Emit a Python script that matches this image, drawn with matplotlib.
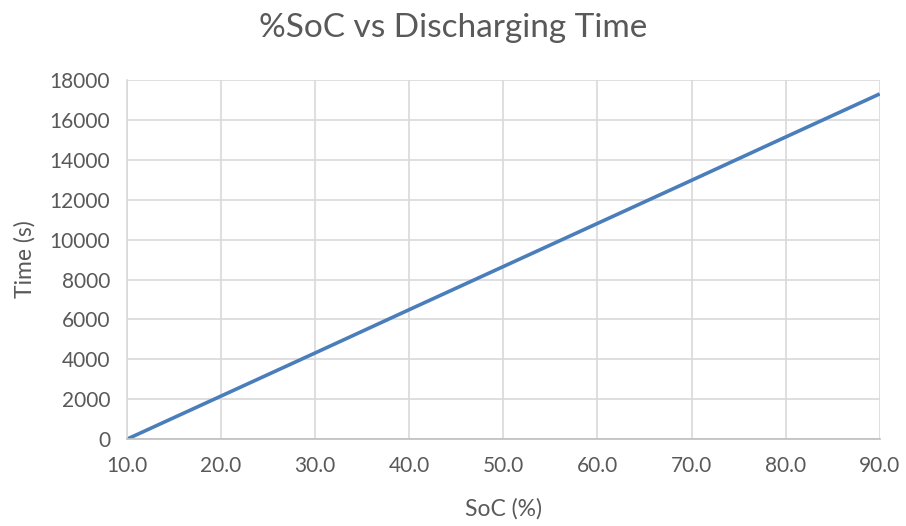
import matplotlib.pyplot as plt

# state of charge (%) and the corresponding discharging time (s)
soc = [10.0, 20.0, 30.0, 40.0, 50.0, 60.0, 70.0, 80.0, 90.0]
time_s = [0, 2160, 4320, 6490, 8650, 10810, 12970, 15140, 17300]

x_ticks = [10, 20, 30, 40, 50, 60, 70, 80, 90]
y_ticks = [0, 2000, 4000, 6000, 8000, 10000, 12000, 14000, 16000, 18000]

text_color = "#595959"
grid_color = "#d9d9d9"

plt.rcParams["font.family"] = ["Lato", "DejaVu Sans"]

fig = plt.figure(figsize=(9.06, 5.26), dpi=100)
ax = fig.add_axes([0.140, 0.165, 0.831, 0.683])

ax.plot(soc, time_s, color="#4a7ebb", linewidth=2.6, solid_capstyle="butt")

ax.set_xlim(10, 90)
ax.set_ylim(0, 18000)
ax.set_xticks(x_ticks)
ax.set_xticklabels([f"{v:.1f}" for v in x_ticks])
ax.set_yticks(y_ticks)
ax.grid(True, color=grid_color, linewidth=1.2)
ax.set_axisbelow(True)

for side in ["top", "right"]:
    ax.spines[side].set_visible(False)
ax.spines["left"].set_color(grid_color)
ax.spines["bottom"].set_color("#bfbfbf")
ax.spines["left"].set_linewidth(1.2)
ax.spines["bottom"].set_linewidth(1.2)

ax.tick_params(length=0, labelsize=15, colors=text_color, pad=12)
ax.tick_params(axis="x", pad=12)

ax.set_xlabel("SoC (%)", fontsize=16.5, color=text_color, labelpad=16)
ax.set_ylabel("Time (s)", fontsize=16.5, color=text_color, labelpad=10)
fig.suptitle("%SoC vs Discharging Time", fontsize=24, color=text_color, y=0.975)

fig.savefig("out.png", dpi=100)
